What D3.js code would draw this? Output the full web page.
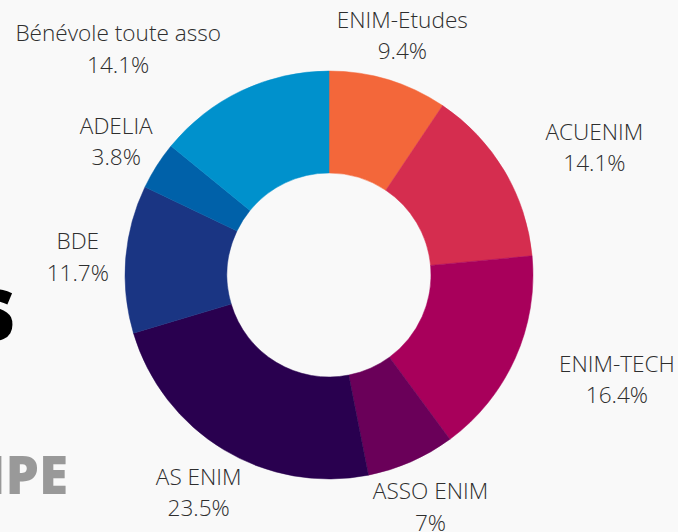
<!DOCTYPE html>
<html>
<head>
<meta charset="utf-8">
<script src="https://cdn.jsdelivr.net/npm/d3@7"></script>
<style>
  body { margin: 0; background: #f9f9f9; }
  svg { display: block; }
  .slice-label { font-family: 'Open Sans', sans-serif; font-weight: 300; font-size: 22.6px; fill: #2e2e2e; }
  .deco { font-family: 'Open Sans', sans-serif; font-weight: 800; }
</style>
</head>
<body>
<div id="chart"></div>
<script>
// Associations and their share (%), clockwise from 12 o'clock
const associations = ['ENIM-Etudes', 'ACUENIM', 'ENIM-TECH', 'ASSO ENIM', 'AS ENIM', 'BDE', 'ADELIA', 'Bénévole toute asso'];
const shares = [9.4, 14.1, 16.4, 7, 23.5, 11.7, 3.8, 14.1];
const sliceColors = ['#f3673a', '#d52d4f', '#a8005b', '#6a0059', '#29004f', '#1a3583', '#0061a9', '#0091cc'];

class DonutChart {

  constructor(_config, _labels, _values) {
    this.config = {
      parentElement: _config.parentElement,
      containerWidth: _config.containerWidth || 678,
      containerHeight: _config.containerHeight || 532,
      center: _config.center || [329, 275],
      outerRadius: _config.outerRadius || 204,
      innerRadius: _config.innerRadius || 102,
      labelRadius: _config.labelRadius || 252,
      fontSize: 22.6,
      lineGap: 31.5
    }
    this.labels = _labels;
    this.values = _values;
    this.initVis();
  }

  initVis() {
    let vis = this;

    vis.svg = d3.select(vis.config.parentElement).append('svg')
        .attr('width', vis.config.containerWidth)
        .attr('height', vis.config.containerHeight);

    vis.svg.append('rect')
        .attr('width', vis.config.containerWidth)
        .attr('height', vis.config.containerHeight)
        .attr('fill', '#f9f9f9');

    // leftovers of the slide title, cut by the left edge
    vis.svg.append('text')
        .attr('class', 'deco')
        .attr('x', 16).attr('y', 340)
        .attr('text-anchor', 'end')
        .attr('font-size', 90)
        .attr('fill', '#000')
        .text('s');

    vis.svg.append('text')
        .attr('class', 'deco')
        .attr('x', 68).attr('y', 494)
        .attr('text-anchor', 'end')
        .attr('font-size', 53)
        .attr('fill', '#999')
        .text('ÉQUIPE');

    vis.chart = vis.svg.append('g')
        .attr('transform', `translate(${vis.config.center[0]},${vis.config.center[1]})`);

    vis.colorScale = d3.scaleOrdinal()
        .domain(vis.labels)
        .range(sliceColors);

    vis.pie = d3.pie().sort(null).value(d => d.value);

    vis.arc = d3.arc()
        .innerRadius(vis.config.innerRadius)
        .outerRadius(vis.config.outerRadius);

    vis.updateVis();
  }

  updateVis() {
    let vis = this;
    vis.data = vis.labels.map((l, i) => ({label: l, value: vis.values[i]}));
    vis.arcs = vis.pie(vis.data);
    vis.renderVis();
  }

  renderVis() {
    let vis = this;
    const fmt = d3.format('.3~r');

    vis.chart.selectAll('.slice')
        .data(vis.arcs)
      .join('path')
        .attr('class', 'slice')
        .attr('fill', d => vis.colorScale(d.data.label))
        .attr('stroke', d => vis.colorScale(d.data.label))
        .attr('stroke-width', 0.5)
        .attr('d', vis.arc);

    const R = vis.config.outerRadius;
    const capH = vis.config.fontSize * 0.714;

    const labels = vis.chart.selectAll('.slice-label')
        .data(vis.arcs)
      .join('text')
        .attr('class', 'slice-label')
        .attr('text-anchor', 'middle');

    labels.each(function(d) {
      const t = d3.select(this);
      const mid = (d.startAngle + d.endAngle) / 2;
      const ux = Math.sin(mid), uy = -Math.cos(mid);
      const ax = ux * vis.config.labelRadius;
      const ay = uy * vis.config.labelRadius;
      const y1 = ay + 1.5 - vis.config.lineGap / 2 + capH / 2;
      const pct = (d.endAngle - d.startAngle) / (2 * Math.PI) * 100;

      const l1 = t.append('tspan').attr('y', y1).text(d.data.label);
      const l2 = t.append('tspan').attr('y', y1 + vis.config.lineGap).text(fmt(pct) + '%');
      const w = Math.max(l1.node().getComputedTextLength(), l2.node().getComputedTextLength());

      // if the centred block would cut into the ring, push it sideways
      const top = y1 - capH, bottom = y1 + vis.config.lineGap;
      const nx = Math.max(ax - w / 2, Math.min(0, ax + w / 2));
      const ny = Math.max(top, Math.min(0, bottom));
      let x = ax;
      if (Math.hypot(nx, ny) < R) x = ax + Math.sign(ux) * w / 2;
      l1.attr('x', x);
      l2.attr('x', x);
    });
  }
}

new DonutChart({parentElement: '#chart'}, associations, shares);
</script>
</body>
</html>
